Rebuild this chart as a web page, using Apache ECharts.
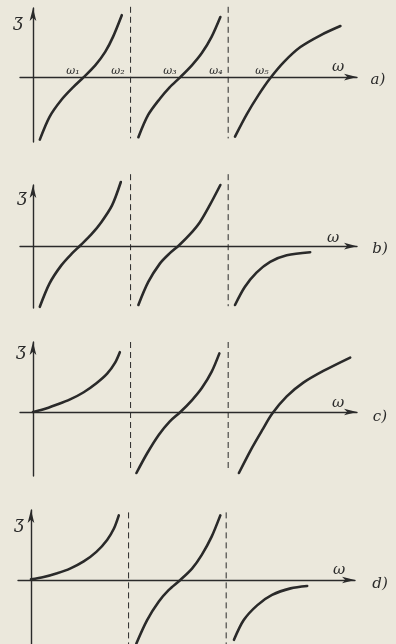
<!DOCTYPE html>
<html>
<head>
<meta charset="utf-8">
<style>
  html, body { margin: 0; padding: 0; background: #ebe8dc; }
  #chart { width: 396px; height: 644px; }
</style>
<script src="https://cdn.jsdelivr.net/npm/echarts@6/dist/echarts.min.js"></script>
</head>
<body>
<div id="chart"></div>
<script>
// curve data, [omega, zeta] — omega in units of the pole positions (w2 = 1, w4 = 2)
const a1 = [[0.07, -1.04], [0.17, -0.66], [0.29, -0.38], [0.41, -0.17], [0.52, 0], [0.64, 0.2], [0.74, 0.42], [0.82, 0.67], [0.91, 1.03]]
const a2 = [[1.08, -1.0], [1.18, -0.63], [1.3, -0.36], [1.4, -0.17], [1.51, 0], [1.63, 0.2], [1.73, 0.4], [1.83, 0.67], [1.92, 1.0]]
const a3 = [[2.07, -0.99], [2.19, -0.62], [2.31, -0.3], [2.43, -0.02], [2.57, 0.25], [2.74, 0.5], [2.95, 0.7], [3.15, 0.85]]

const b1 = [[0.07, -1.01], [0.17, -0.62], [0.29, -0.32], [0.4, -0.12], [0.49, 0.02], [0.6, 0.2], [0.7, 0.4], [0.81, 0.68], [0.9, 1.07]]
const b2 = [[1.08, -0.98], [1.18, -0.6], [1.3, -0.29], [1.4, -0.12], [1.5, 0.02], [1.61, 0.2], [1.71, 0.4], [1.81, 0.68], [1.92, 1.02]]
const b3 = [[2.07, -0.98], [2.17, -0.68], [2.29, -0.44], [2.43, -0.26], [2.6, -0.15], [2.84, -0.1]]

const c1 = [[0, 0], [0.1, 0.04], [0.24, 0.12], [0.38, 0.21], [0.52, 0.33], [0.65, 0.48], [0.76, 0.64], [0.84, 0.82], [0.89, 1.0]]
const c2 = [[1.06, -1.02], [1.17, -0.69], [1.29, -0.38], [1.4, -0.16], [1.51, 0], [1.63, 0.2], [1.73, 0.4], [1.83, 0.67], [1.91, 0.98]]
const c3 = [[2.11, -1.02], [2.23, -0.64], [2.35, -0.3], [2.45, -0.03], [2.6, 0.26], [2.77, 0.49], [2.98, 0.69], [3.25, 0.91]]

const d1 = [[0, 0.01], [0.13, 0.05], [0.26, 0.11], [0.4, 0.19], [0.54, 0.31], [0.67, 0.47], [0.78, 0.67], [0.85, 0.86], [0.9, 1.08]]
const d2 = [[1.08, -1.06], [1.19, -0.67], [1.31, -0.36], [1.41, -0.17], [1.53, 0], [1.65, 0.19], [1.75, 0.42], [1.85, 0.72], [1.94, 1.08]]
const d3 = [[2.08, -1.0], [2.18, -0.67], [2.32, -0.42], [2.47, -0.25], [2.66, -0.14], [2.83, -0.1]]

// poles (dashed) and their vertical extent per panel
const poles = [1, 2]
const poleSpan = [[1.17, -1.02], [1.2, -1.0], [1.17, -0.97], [1.13, -1.07]]

// y range per panel
const yRange = [[-1.08, 1.15], [-1.03, 1.02], [-1.07, 1.17], [-1.07, 1.17]]

const panelLabels = ['a)', 'b)', 'c)', 'd)']
const zeroLabels = ['ω₁', 'ω₂', 'ω₃', 'ω₄', 'ω₅']

const curves = [[a1, a2, a3], [b1, b2, b3], [c1, c2, c3], [d1, d2, d3]]

const ink = '#2a2a2a'
const font = '"DejaVu Serif", serif'

// pixel boxes of the four panels
const grids = [
  { left: 20, top: 8, width: 337, height: 134 },
  { left: 20, top: 185, width: 337, height: 123 },
  { left: 20, top: 342, width: 337, height: 134 },
  { left: 18, top: 510, width: 337, height: 134 }
]

const chart = echarts.init(document.getElementById('chart'))

const axisStyle = {
  onZero: true,
  symbol: ['none', 'arrow'],
  symbolSize: [5, 13],
  lineStyle: { color: ink, width: 1.4 }
}

const xAxis = grids.map((g, i) => ({
  type: 'value',
  gridIndex: i,
  min: -0.133,
  max: 3.32,
  axisLine: axisStyle,
  axisTick: { show: false },
  axisLabel: { show: false },
  splitLine: { show: false }
}))

const yAxis = grids.map((g, i) => ({
  type: 'value',
  gridIndex: i,
  min: yRange[i][0],
  max: yRange[i][1],
  axisLine: axisStyle,
  axisTick: { show: false },
  axisLabel: { show: false },
  splitLine: { show: false }
}))

const series = []
curves.forEach((set, i) => {
  set.forEach(pts => {
    series.push({
      type: 'line',
      xAxisIndex: i,
      yAxisIndex: i,
      data: pts,
      smooth: 0.3,
      symbol: 'none',
      clip: false,
      lineStyle: { color: ink, width: 2.6, cap: 'round' }
    })
  })
  poles.forEach(p => {
    series.push({
      type: 'line',
      xAxisIndex: i,
      yAxisIndex: i,
      data: [[p, poleSpan[i][0]], [p, poleSpan[i][1]]],
      symbol: 'none',
      clip: false,
      lineStyle: { color: ink, width: 1, type: [6, 4] }
    })
  })
})

// text labels
const txt = (x, y, s, size) => ({
  type: 'text',
  x, y,
  style: { text: s, fill: ink, font: 'italic ' + size + 'px ' + font, align: 'center', verticalAlign: 'middle' }
})

const graphic = []
const zetaPos = [[18, 22], [22, 197], [21, 351], [19, 524]]
const omegaPos = [[338, 67], [333, 238], [338, 403], [339, 570]]
const panelPos = [[378, 80], [380, 249], [380, 417], [380, 584]]
for (let i = 0; i < 4; i++) {
  graphic.push(txt(zetaPos[i][0], zetaPos[i][1], 'ʒ', 17))
  graphic.push(txt(omegaPos[i][0], omegaPos[i][1], 'ω', 15))
  graphic.push(txt(panelPos[i][0], panelPos[i][1], panelLabels[i], 15))
}
const zeroX = [73, 118, 170, 216, 262]
zeroLabels.forEach((s, k) => graphic.push(txt(zeroX[k], 71, s, 11)))

chart.setOption({
  animation: false,
  backgroundColor: '#ebe8dc',
  grid: grids,
  xAxis,
  yAxis,
  series,
  graphic
})
</script>
</body>
</html>
